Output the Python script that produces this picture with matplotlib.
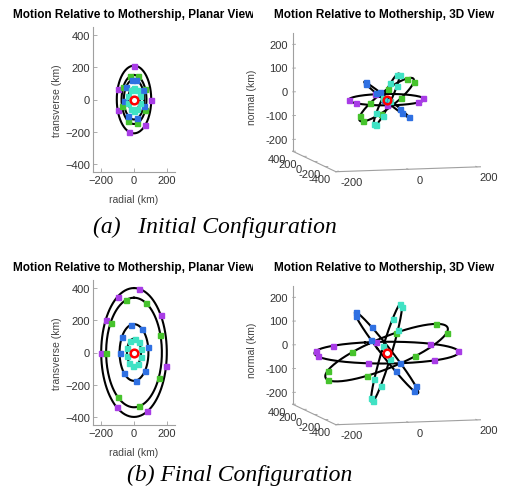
import numpy as np
import matplotlib
matplotlib.use("Agg")
import matplotlib.pyplot as plt
from matplotlib.transforms import Bbox, TransformedBbox

plt.rcParams["font.family"] = "Liberation Sans"

W, H = 506, 489

# orbit colours: purple, green, blue, cyan
colors = ["#a83ce6", "#46c32c", "#2f70e2", "#40e2c4"]

# radial amplitude of each relative orbit (km); transverse amplitude is 2x
init_radial = [105, 76, 62, 36]
final_radial = [200, 170, 88, 43]

# normal displacement per km of radial displacement (tilt of the orbit plane)
init_tilt = [0.03, 1.14, -1.24, 3.0]
final_tilt = [0.03, 0.63, -1.98, 4.8]

# phase (deg) of the marked positions along each orbit
init_marks = [
    [0, 90, 140, 197, 252, 288],
    [20, 65, 115, 165, 210, 255, 300, 340],
    [10, 60, 110, 160, 215, 265, 310, 350],
    [0, 35, 70, 105, 145, 180, 215, 250, 290, 325],
]
final_marks = [
    [9, 54, 102, 156, 212, 270, 300, 330],
    [26, 71, 118, 170, 216, 270, 303, 343],
    [34, 78, 131, 172, 225, 270, 303, 348],
    [5, 40, 75, 110, 150, 185, 220, 255, 290, 325],
]

planar_xticks = [-200, 0, 200]
planar_yticks = [-400, -200, 0, 200, 400]
x3_ticks = [-200, 0, 200]
y3_ticks = [-400, -200, 0, 200, 400]
z3_ticks = [-200, -100, 0, 100, 200]
X3, Y3, Z3 = (-210, 210), (-400, 400), (-250, 250)

TICK_C = "#333333"
AX_C = "#a0a0a0"


def rect(left, top, right, bottom):
    return [left / W, 1 - bottom / H, (right - left) / W, (bottom - top) / H]


def orbit(radial, tilt, deg):
    t = np.radians(deg)
    x = radial * np.sin(t)
    y = 2 * radial * np.cos(t)
    return x, y, tilt * x


def planar(fig, dy, radial, marks):
    ax = fig.add_axes(rect(93, 28 + dy, 175, 173 + dy))
    th = np.arange(0, 361, 2)
    for a in radial:
        x, y, _ = orbit(a, 0, th)
        ax.plot(x, y, color="k", lw=1.5, zorder=2)
    for a, m, c in zip(radial, marks, colors):
        x, y, _ = orbit(a, 0, np.array(m))
        ax.plot(x, y, "s", ms=3.6, mfc=c, mec=c, zorder=3)
    ax.plot([0], [0], "o", ms=5.5, mfc="none", mec="red", mew=1.8, zorder=4)
    ax.set_xlim(-250, 250)
    ax.set_ylim(-450, 450)
    ax.set_xticks(planar_xticks)
    ax.set_yticks(planar_yticks)
    for s in ["top", "right"]:
        ax.spines[s].set_visible(False)
    for s in ["left", "bottom"]:
        ax.spines[s].set_color(AX_C)
        ax.spines[s].set_linewidth(0.8)
    ax.tick_params(direction="in", length=3, width=0.6, color=AX_C,
                   labelsize=8, labelcolor=TICK_C, pad=2)
    ax.set_xlabel("radial (km)", fontsize=7.5, color="#444444")
    ax.set_ylabel("transverse (km)", fontsize=7.5, color="#444444")
    ax.xaxis.set_label_coords(0.5, -0.15)
    ax.yaxis.set_label_coords(-0.38, 0.5)
    return ax


def fit_box(fig, ax, pts, targets):
    fig.canvas.draw()
    M = ax.get_proj()
    P = []
    for x, y, z in pts:
        v = M @ np.array([x, y, z, 1.0])
        P.append(ax.transData.transform((v[0] / v[3], v[1] / v[3])))
    P = np.array(P)
    T = np.array([(tx, H - ty) for tx, ty in targets], dtype=float)
    pos = ax.get_position(original=True)
    C = np.array([(pos.x0 + pos.x1) / 2 * W, (pos.y0 + pos.y1) / 2 * H])
    Q, R = P - C, T - C
    Qm, Rm = Q.mean(0), R.mean(0)
    s = ((Q - Qm) * (R - Rm)).sum() / ((Q - Qm) ** 2).sum()
    c = C + Rm - s * Qm
    w, h = pos.width * s, pos.height * s
    ax.set_position([c[0] / W - w / 2, c[1] / H - h / 2, w, h])


def spatial(fig, dy, radial, tilt, marks):
    ax = fig.add_axes(rect(265, 20 + dy, 500, 200 + dy), projection="3d")
    ax.set_proj_type("ortho")
    ax.view_init(elev=7.3, azim=-105)
    ax.set_box_aspect((150, 167, 120))
    ax.computed_zorder = False
    ax.set_axis_off()

    x0, x1 = X3
    y0, y1 = Y3
    z0, z1 = Z3
    ax.plot([x0, x1], [y0, y0], [z0, z0], color=AX_C, lw=0.8, zorder=1)
    ax.plot([x0, x0], [y0, y1], [z0, z0], color=AX_C, lw=0.8, zorder=1)
    ax.plot([x0, x0], [y1, y1], [z0, z1], color=AX_C, lw=0.8, zorder=1)
    for z in z3_ticks:
        ax.plot([x0, x0 + 8], [y1, y1], [z, z], color=AX_C, lw=0.6, zorder=1)
        ax.text(x0 - 14, y1, z, str(z), ha="right", va="center",
                fontsize=8, color=TICK_C)
    for x in x3_ticks:
        ax.plot([x, x], [y0, y0 + 25], [z0, z0], color=AX_C, lw=0.6, zorder=1)
        ax.text(x, y0 - 220, z0 - 20, str(x), ha="center", va="center",
                fontsize=8, color=TICK_C)
    for y in y3_ticks:
        ax.plot([x0, x0 + 8], [y, y], [z0, z0], color=AX_C, lw=0.6, zorder=1)
        ax.text(x0 - 46, y, z0 - 30, str(y), ha="center", va="center",
                fontsize=8, color=TICK_C)

    th = np.arange(0, 361, 2)
    for a, k in zip(radial, tilt):
        x, y, z = orbit(a, k, th)
        ax.plot(x, y, z, color="k", lw=1.5, zorder=2)
    for a, k, m, c in zip(radial, tilt, marks, colors):
        x, y, z = orbit(a, k, np.array(m))
        ax.plot(x, y, z, "s", ms=3.6, mfc=c, mec=c, zorder=3)
    ax.plot([0], [0], [0], "o", ms=5.5, mfc="none", mec="red", mew=1.8, zorder=4)

    ax.set_xlim(X3)
    ax.set_ylim(Y3)
    ax.set_zlim(Z3)
    fit_box(fig, ax, [(x0, y0, z0), (x1, y0, z0), (x0, y1, z1)],
            [(336, 173 + dy), (480, 168 + dy), (293, 33 + dy)])
    return ax


fig = plt.figure(figsize=(W / 100, H / 100), dpi=100)

left_clip = TransformedBbox(Bbox([[0, 0], [253 / W, 1]]), fig.transFigure)

for dy, radial, tilt, marks in [(0, init_radial, init_tilt, init_marks),
                                (253, final_radial, final_tilt, final_marks)]:
    planar(fig, dy, radial, marks)
    spatial(fig, dy, radial, tilt, marks)
    t = fig.text(13 / W, 1 - (15 + dy) / H, "Motion Relative to Mothership, Planar View",
                 ha="left", va="center", fontsize=8.5, fontweight="bold")
    t.set_clip_box(left_clip)
    t.set_clip_on(True)
    fig.text(384.5 / W, 1 - (15 + dy) / H, "Motion Relative to Mothership, 3D View",
             ha="center", va="center", fontsize=8.5, fontweight="bold")
    fig.text(252 / W, 1 - (97 + dy) / H, "normal (km)", rotation=90,
             ha="center", va="center", fontsize=7.5, color="#444444")

fig.text(93 / W, 1 - 227 / H, "(a)   Initial Configuration", ha="left", va="center",
         fontsize=17, fontstyle="italic", family="Liberation Serif")
fig.text(127 / W, 1 - 475 / H, "(b) Final Configuration", ha="left", va="center",
         fontsize=17, fontstyle="italic", family="Liberation Serif")

fig.savefig("out.png", dpi=100)
